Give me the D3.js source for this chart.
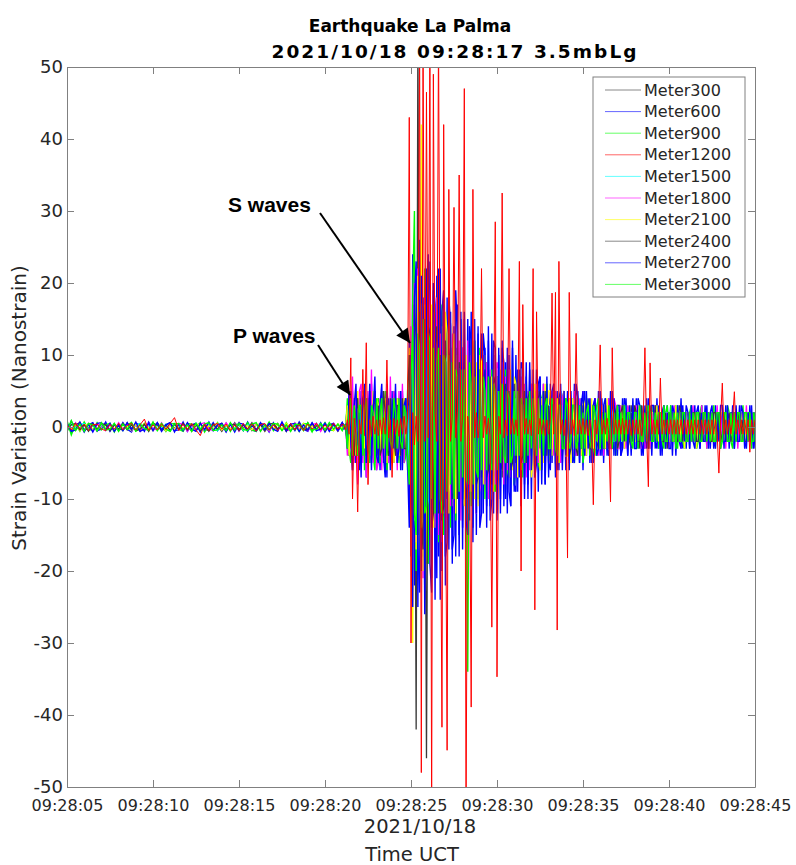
<!DOCTYPE html>
<html>
<head>
<meta charset="utf-8">
<script src="https://cdn.jsdelivr.net/npm/d3@7"></script>
<style>
  body { margin: 0; background: #fff; }
  svg { display: block; }
</style>
</head>
<body>
<svg id="chart" width="796" height="865"></svg>
<script>
// ---------------- DATA ----------------
const seriesNames = ["Meter300","Meter600","Meter900","Meter1200","Meter1500","Meter1800","Meter2100","Meter2400","Meter2700","Meter3000"];
const xTickSeconds = [5,10,15,20,25,30,35,40,45];
const xTickLabels = ["09:28:05","09:28:10","09:28:15","09:28:20","09:28:25","09:28:30","09:28:35","09:28:40","09:28:45"];
const yTicks = [-50,-40,-30,-20,-10,0,10,20,30,40,50];

// sampling grid (seconds after 09:28:00): before the event every 0.25 s, during the event every 0.1 s
const quietTimes = d3.range(65).map(i => 5 + i * 0.25);
const activeTimes = d3.range(240).map(i => +(21.1 + i * 0.1).toFixed(1));
const times = quietTimes.concat(activeTimes);

// ---- background noise, 09:28:05 - 09:28:21 ----
const q300 = [0.5,-0.7,0.3,0.6,-0.4,-0.2,0.5,-0.6,0.2,0.4,-0.5,0.3,-0.3,
 -0.4,0.6,-0.2,0.3,-0.6,0.4,0.2,-0.5,0.6,-0.3,-0.4,0.5,-0.2,
 0.3,-0.5,0.4,-0.6,0.2,0.5,-0.3,-0.5,0.4,0.2,-0.6,0.3,-0.4,
 0.6,-0.3,-0.2,0.5,-0.5,0.3,0.4,-0.6,0.2,-0.3,0.5,-0.4,0.3,
 -0.5,0.2,0.4,-0.3,0.6,-0.5,0.2,-0.4,0.5,-0.3,0.3,-0.6,0.4];
const q600 = [-0.6,0.8,-0.4,0.5,-0.7,0.3,0.6,-0.5,-0.3,0.7,-0.6,0.4,-0.5,
 0.6,-0.3,-0.7,0.5,0.3,-0.6,0.7,-0.4,0.5,-0.6,0.3,0.6,-0.5,
 -0.4,0.7,-0.6,0.3,0.5,-0.7,0.4,-0.3,0.6,-0.5,0.4,-0.7,0.5,
 -0.3,0.6,-0.5,0.7,-0.4,-0.6,0.5,0.3,-0.7,0.6,-0.4,0.5,-0.6,
 0.4,-0.5,0.7,-0.3,-0.6,0.5,-0.4,0.6,-0.7,0.3,0.5,-0.4,0.6];
const q900 = [0.9,-1.1,0.4,-0.6,0.7,-0.3,-0.5,0.6,-0.4,0.3,0.5,-0.7,0.4,
 -0.5,0.3,0.6,-0.6,-0.2,0.5,-0.4,0.7,-0.5,0.3,-0.6,0.4,0.5,
 -0.3,-0.6,0.5,0.4,-0.5,0.6,-0.7,0.3,-0.4,0.6,-0.3,0.5,-0.6,
 0.4,0.3,-0.5,0.6,-0.4,-0.6,0.5,-0.3,0.7,-0.5,0.4,-0.4,0.6,
 -0.5,0.3,-0.6,0.5,0.4,-0.7,0.5,-0.3,0.6,-0.4,-0.5,0.4,-0.3];
const q1200 = [0.3,-0.4,0.5,-0.2,0.4,-0.5,0.3,0.4,-0.3,-0.5,0.4,-0.3,0.5,
 -0.4,0.2,0.5,-0.4,0.3,1.1,-0.5,0.3,-0.4,0.4,-0.3,0.5,1.3,
 -0.5,0.4,-0.3,0.5,-0.4,-1.2,0.4,-0.5,0.3,0.5,-0.3,0.4,-0.5,
 0.3,-0.4,0.5,-0.3,0.4,-0.6,0.3,0.5,-0.4,0.3,-0.5,0.4,-0.3,
 0.5,-0.4,0.3,-0.5,0.4,-0.3,0.5,-0.4,0.3,-0.4,0.5,-0.3,0.4];
const q1500 = [-0.3,0.4,-0.2,0.3,0.5,-0.4,0.2,-0.5,0.3,-0.2,0.4,-0.3,0.2,
 0.4,-0.3,-0.4,0.2,0.5,-0.3,0.3,-0.4,0.2,-0.2,0.4,-0.5,0.3,
 0.2,-0.4,0.3,-0.3,0.5,-0.2,-0.4,0.3,0.2,-0.5,0.4,-0.3,0.3,
 -0.2,0.4,-0.4,0.3,0.2,-0.5,0.4,-0.3,0.2,0.3,-0.4,0.5,-0.2,
 0.3,-0.4,0.2,0.4,-0.3,0.3,-0.5,0.2,0.4,-0.3,0.2,-0.4,0.3];
const q1800 = [0.4,-0.5,0.6,-0.3,-0.4,0.5,-0.6,0.3,0.4,-0.5,0.3,-0.4,0.6,
 -0.3,0.5,-0.5,0.4,-0.6,0.3,0.5,-0.4,-0.3,0.6,-0.5,0.3,-0.4,
 0.5,0.4,-0.6,0.3,-0.5,0.4,0.6,-0.3,-0.5,0.4,-0.4,0.6,-0.3,
 0.5,-0.6,0.3,-0.4,0.5,0.4,-0.5,0.3,-0.6,0.4,-0.3,0.5,-0.4,
 -0.5,0.6,-0.3,0.4,-0.5,0.3,0.5,-0.6,0.4,-0.3,0.5,-0.5,0.3];
const q2100 = [0.3,-0.3,0.4,-0.5,0.2,0.4,-0.3,-0.4,0.5,-0.2,0.3,-0.4,0.4,
 -0.3,0.2,-0.5,0.4,-0.3,0.5,-0.2,-0.4,0.3,0.4,-0.5,0.2,-0.3,
 0.4,-0.2,0.3,-0.5,0.4,0.3,-0.4,0.2,-0.3,0.5,-0.4,0.3,-0.2,
 -0.4,0.5,-0.3,0.2,-0.4,0.3,0.4,-0.5,0.3,-0.2,0.4,-0.3,0.5,
 -0.2,0.3,-0.4,0.5,-0.3,0.2,-0.4,0.4,-0.3,0.2,-0.5,0.4,-0.2];
const q2400 = [-0.4,0.3,0.5,-0.4,0.3,-0.6,0.4,-0.3,0.5,0.3,-0.5,0.4,-0.3,
 0.5,-0.4,0.3,-0.5,-0.3,0.4,-0.6,0.5,0.3,-0.4,0.3,-0.5,0.4,
 -0.3,0.5,-0.4,0.3,0.4,-0.5,0.3,-0.6,0.4,-0.3,0.5,-0.4,0.3,
 0.4,-0.5,0.3,-0.3,0.6,-0.4,0.3,-0.5,0.4,0.5,-0.3,0.4,-0.6,
 0.3,-0.4,0.5,-0.3,-0.4,0.5,-0.3,0.4,-0.5,0.3,0.4,-0.3,0.5];
const q2700 = [0.5,-0.6,-0.4,0.7,-0.5,0.4,-0.7,0.5,0.6,-0.4,0.5,-0.6,0.3,
 -0.5,0.6,-0.4,0.7,-0.6,-0.3,0.5,-0.5,0.6,-0.4,0.3,0.6,-0.7,
 0.4,-0.5,0.6,-0.3,-0.6,0.5,-0.4,0.7,-0.5,0.3,0.5,-0.6,0.4,
 -0.7,0.5,0.4,-0.6,0.3,-0.5,0.6,-0.4,0.5,-0.3,-0.6,0.7,-0.5,
 0.4,0.5,-0.6,0.3,-0.4,0.6,-0.5,-0.3,0.5,-0.6,0.4,-0.5,0.6];
const q3000 = [-0.7,0.9,-0.5,0.4,-0.6,0.5,0.3,-0.5,0.6,-0.4,-0.3,0.5,-0.6,
 0.4,-0.3,0.6,-0.5,0.4,-0.2,-0.5,0.6,-0.4,0.5,-0.3,-0.6,0.4,
 0.5,-0.4,0.3,-0.6,0.5,-0.3,0.4,0.6,-0.5,-0.4,0.3,-0.5,0.6,
 -0.4,0.5,-0.3,-0.5,0.4,0.6,-0.6,0.3,-0.4,0.5,0.4,-0.5,0.3,
 -0.6,0.4,0.3,-0.5,0.6,-0.4,-0.3,0.5,-0.4,0.6,-0.3,0.4,-0.5];

// ---- event, 09:28:21.1 - 09:28:45 (one row = one second) ----
const a300 = [
 -0.2,0.3,3,-4,2,-3,4,-5,3,-3,
 4,-3,3,-5,4,-2,3,-4,5,-3,
 -4,3,-3,4,-5,3,2,-4,3,-4,
 3,-4,4,-3,-3,4,-4,3,-9,12,
 -16,15,-42,55,-14,16,-18,13,-15,15,
 -14,12,-13,15,-11,13,-14,10,12,-12,
 10,-11,9,-12,10,-9,11,-8,-10,9,
 -9,8,-10,9,-8,7,-9,8,7,-8,
 7,-8,6,-7,8,-6,7,-7,-6,7,
 -6,5,-7,6,-5,6,-6,5,6,-5,
 5,-6,5,-4,6,-5,-4,5,-5,4,
 -4,5,-4,5,-5,4,4,-4,5,-4,
 4,-4,3,-4,4,-3,-4,4,-3,4,
 -3,4,-3,3,-4,3,3,-3,4,-3,
 3,-3,3,-3,3,-2,-3,3,-3,3,
 -3,2,-3,3,-2,3,2,-3,3,-2,
 2,-3,2,-2,3,-2,-2,3,-2,2,
 -2,2,-3,2,-2,2,2,-2,3,-2,
 2,-2,2,-2,2,-3,-2,2,-2,2,
 -2,2,-2,2,-2,2,2,-2,2,-2,
 2,-2,2,-2,2,-2,-2,2,-2,2,
 -2,2,-2,2,-2,2,2,-2,2,-2,
 2,-1,2,-2,1,-2,-2,2,-1,2,
 -2,1,-2,2,-1,2,1,-2,2,-1];
const a600 = [
 0.3,-0.4,2,-4,5,-6,4,-5,3,-6,
 5,-4,6,-7,4,-5,6,-3,5,-6,
 4,-6,5,-5,3,-7,4,-4,5,-5,
 4,-5,3,-6,5,-4,4,-6,12,-18,
 24,-22,20,-25,26,-20,18,-24,22,-19,
 23,-21,19,-24,21,-18,22,-20,17,-22,
 18,-17,16,-19,14,-18,17,-15,16,-17,
 15,-16,15,-13,16,-14,12,-15,14,-13,
 13,-12,11,-14,12,-11,13,-12,10,-13,
 11,-10,12,-11,9,-12,10,-11,11,-9,
 10,-9,8,-11,9,-8,9,-10,8,-10,
 8,-7,8,-9,7,-8,6,-8,7,-7,
 6,-5,6,-7,5,-6,6,-5,4,-6,
 5,-6,4,-5,6,-4,5,-5,4,-6,
 5,-4,4,-5,3,-5,4,-4,5,-4,
 4,-5,3,-4,4,-3,5,-4,3,-4,
 3,-4,4,-3,4,-4,3,-4,3,-3,
 4,-3,3,-4,3,-3,4,-3,2,-4,
 3,-3,4,-3,2,-4,3,-3,3,-2,
 3,-4,2,-3,3,-2,4,-3,2,-3,
 2,-3,3,-2,3,-3,2,-3,3,-2,
 3,-2,2,-3,2,-3,3,-2,2,-3,
 2,-3,3,-2,2,-2,3,-3,2,-2,
 3,-2,2,-3,2,-2,3,-2,2,-3];
const a900 = [
 0.2,-0.5,4,-3,-5,5,-4,3,-5,4,
 -3,5,-6,4,3,-5,5,-4,-6,3,
 4,-5,3,-4,5,-6,-3,4,-5,5,
 -4,4,-5,3,4,-5,-4,5,9,-12,
 18,30,-20,17,-21,19,-18,22,-15,-19,
 16,-17,15,-14,18,-16,-13,17,-15,14,
 -12,13,-14,11,12,-13,10,-12,11,-13,
 10,-12,-34,9,-11,10,12,-9,-10,11,
 -9,8,-10,9,7,-9,8,-8,-9,7,
 7,-8,6,-7,8,-6,-7,7,6,-8,
 -6,7,-5,6,-7,5,6,-6,-5,6,
 5,-6,5,-5,-6,4,5,-5,6,-4,
 -5,4,5,-4,4,-5,-4,4,5,-4,
 4,-4,-3,4,-5,3,4,-4,3,-5,
 -3,4,3,-4,3,-3,-4,3,4,-3,
 3,-3,4,-3,-3,4,-3,3,-4,2,
 -3,3,-2,3,3,-3,2,-3,3,-2,
 2,-3,3,-2,-3,2,3,-2,-3,3,
 -2,3,2,-3,2,-2,-3,2,3,-2,
 3,-2,-2,3,-3,2,2,-2,-3,2,
 -2,2,3,-2,2,-3,-2,2,3,-2,
 2,-3,2,-2,-2,3,-2,2,2,-3,
 -2,2,-2,3,2,-2,-3,2,-2,2,
 2,-2,3,-2,-2,2,2,-3,2,-2];
const a1200 = [
 0.3,-0.4,1,-1,9.6,-10,1.2,-1,-11.8,1,
 -1,8,-1.2,11.7,-8,1,-1.3,1.5,-1,1,
 -1.2,1,-1,1.3,-1,9.3,-1.5,1,-7,1.2,
 -1,1,-1.3,1.2,-1,1.5,-1,1,43,-30,
 2,-2.5,1.5,-2,55,-48,55,-2,46.5,-1.5,
 55,-55,49,2,-2,55,-1.5,-41.7,42,-2,
 -44.9,33,-2,1.5,30.5,-1.5,2,35,-2,1.5,
 47,-55,1.5,-2,-38.9,33,-1.5,2,-1.5,1,
 22,-1.5,1.5,-1,1.2,-1.5,-27.8,1.5,28.5,-34.7,
 1.5,-1,32.5,-1.5,1,-1.2,22,-1,1.2,-1,
 1,-1.2,23,-20,17,-1,1.2,-1,1,-1.2,
 22,-25.4,16,-1,1.2,-1,1,-1.2,1,-1,
 1,18.6,-1,18.7,-28.2,23,-1,1,-1.2,1,
 -18.2,18.7,-1,1,-1.2,13,-1,1,-1,1.2,
 -1,1,-1.2,1,-1,-10.8,1,-1,1,11.4,
 -1,1,-1,1.2,-1,-10.4,11,-1,1,-1,
 1,-1,1.2,-1,1,-1,1,-1.2,1,-1,
 1,-1,1,-1.2,1,11,-1,-8.3,8.9,-1,
 1,-1,1,-1,6.8,-1,1,-1,1,-1,
 1,-1,1,-1,1,-1,1,-1,1,-1,
 1,-1,1,-1,1,-1,1,-1,1,-1,
 1,-1,1,-1,1,-1,1,-1,-6.4,1,
 6.1,-1,1,-1,1,-1,1,4.9,-1,1,
 -1,1,-1,1,-1,1,-3.5,1,-1,1];
const a1500 = [
 0.1,-0.2,2,-3,3,-2,-3,3,-2,3,
 -3,2,3,-3,-2,3,-4,2,3,-3,
 2,-3,-2,3,3,-2,-3,2,3,-2,
 -3,2,2,-3,3,-2,-2,3,-6,7,
 12,-13,14,-11,-13,12,10,-14,13,-10,
 -11,12,-10,11,9,-12,11,-9,-10,10,
 9,-8,-9,8,-7,9,8,-8,7,-9,
 -7,8,6,-7,8,-6,-7,6,-8,7,
 6,-6,-5,6,5,-6,6,-5,-6,5,
 -5,5,4,-5,-4,5,-5,4,5,-4,
 4,-4,-5,4,4,-3,-4,5,-3,4,
 -4,3,4,-4,-3,4,3,-3,-4,3,
 3,-3,-3,4,3,-3,-3,3,3,-3,
 -3,3,2,-3,-3,2,3,-3,-2,3,
 2,-3,-2,3,2,-2,-3,2,3,-2,
 -2,2,3,-2,-2,3,2,-2,-2,2,
 2,-2,-2,2,3,-2,-2,2,2,-2,
 -2,2,2,-2,-2,2,2,-2,-2,2,
 2,-2,-2,2,2,-2,-2,2,2,-1,
 -2,1,2,-2,-1,2,2,-1,-2,2,
 1,-2,-1,2,2,-1,-2,1,2,-1,
 -1,2,1,-2,-1,2,1,-2,-1,2,
 2,-1,-2,1,2,-1,-1,2,1,-2,
 -1,2,1,-1,-2,1,2,-1,-1,1];
const a1800 = [
 -0.2,0.1,-4,5,-3,7,-5,4,-8,5,
 6,-5,4,-7,5,-4,8,-5,4,-6,
 -5,4,-6,5,-4,6,-5,7,-4,5,
 4,-6,5,-4,6,-5,3,-4,-10,14,
 -18,20,-16,22,-19,17,-21,18,-16,20,
 15,-17,16,-14,18,-15,13,-16,17,-13,
 -12,14,-11,13,-12,15,-10,12,-13,11,
 11,-10,12,-9,10,-11,9,-12,10,-8,
 -9,10,-8,9,-10,8,-9,7,-8,9,
 8,-7,9,-8,7,-6,8,-7,6,-7,
 -7,6,-6,7,-5,6,-7,5,-6,6,
 5,-6,6,-5,5,-4,6,-5,4,-5,
 -5,5,-4,5,-5,4,-5,4,5,-4,
 4,-5,4,-4,5,-4,-3,4,-4,5,
 -4,4,-3,4,-4,3,4,-3,-4,3,
 3,-4,3,-3,4,-3,-3,4,3,-3,
 -3,3,-2,3,-3,3,2,-3,3,-2,
 3,-2,3,-3,2,-3,-2,3,-3,2,
 -2,3,-2,2,-3,2,3,-2,2,-3,
 2,-2,3,-2,2,-2,-3,2,-2,2,
 -2,2,-2,3,-2,2,2,-2,3,-2,
 2,-3,2,-2,2,-2,-2,3,-2,2,
 -2,2,-3,2,-2,2,2,-2,2,-3,
 2,-2,2,-2,3,-2,-2,2,-2,2];
const a2100 = [
 0.2,-0.3,3,-4,4,-5,3,-4,5,-3,
 -4,5,-3,4,-5,3,-4,5,-3,4,
 3,-4,5,-3,4,-5,3,-3,4,-5,
 -3,4,-4,3,-5,4,-3,4,11,-13,
 -30,19,-17,21,-18,42,-20,17,-19,16,
 -15,17,-14,16,-13,15,-17,14,-12,16,
 13,-12,14,-11,13,-12,10,-13,12,-10,
 -11,10,-12,11,-9,12,-10,9,-11,10,
 9,-8,10,-9,8,-10,7,-9,8,-8,
 -7,8,-6,7,-8,6,-7,8,-6,7,
 6,-7,5,-6,7,-5,6,-6,5,-7,
 -5,6,-5,5,-6,4,-5,6,-4,5,
 5,-4,5,-5,4,-5,4,-4,5,-4,
 -4,4,-5,4,-3,4,-4,3,-4,4,
 3,-4,3,-3,4,-3,3,-4,3,-3,
 -3,3,-3,4,-3,3,-2,3,-3,3,
 3,-2,3,-3,2,-3,3,-2,3,-2,
 -2,3,-2,2,-3,2,-2,3,-2,2,
 2,-2,3,-2,2,-2,2,-3,2,-2,
 -2,2,-2,3,-2,2,-2,2,-3,2,
 2,-2,2,-2,2,-3,2,-2,2,-2,
 -2,2,-2,2,-2,2,-3,2,-2,2,
 2,-2,2,-2,2,-2,2,-2,2,-2,
 -2,2,-1,2,-2,1,-2,2,-1,2];
const a2400 = [
 0.2,-0.3,-2,3,4,-3,-4,2,4,-5,
 -3,4,3,-4,-2,5,-3,3,4,-4,
 3,-4,-3,5,2,-3,-4,4,-3,3,
 -4,3,3,-4,4,-3,-3,4,10,-8,
 -14,17,12,-15,16,-13,-17,15,-46,14,
 13,-14,-12,11,14,-12,10,-13,-11,12,
 -10,9,11,-10,-9,11,-10,9,8,-9,
 9,-10,-8,9,7,-9,8,-8,-7,8,
 -7,6,8,-7,-6,7,-8,6,7,-6,
 6,-5,-6,5,6,-5,5,-6,-5,6,
 -5,4,6,-5,-4,5,-5,4,5,-4,
 4,-5,-4,4,5,-4,-3,5,-4,3,
 -4,3,4,-4,-3,4,3,-4,3,-3,
 3,-4,-3,3,3,-3,-4,3,-3,3,
 -3,3,2,-3,-3,3,3,-2,-3,2,
 2,-3,3,-2,-3,2,-2,3,2,-3,
 -2,2,3,-2,2,-3,-2,2,-2,3,
 2,-2,-2,3,-2,2,2,-3,2,-2,
 -2,3,-2,2,2,-2,-2,2,-3,2,
 2,-2,2,-2,-2,3,2,-2,2,-2,
 -2,2,-2,2,2,-2,-2,2,-2,2,
 2,-2,2,-2,-2,2,2,-2,2,-2,
 -1,2,-2,1,2,-2,-1,2,-2,1,
 2,-1,1,-2,-2,1,2,-1,-1,2];
const a2700 = [
 -0.2,0.3,-3,5,-2,-6,3,6,-4,2,
 -7,4,5,-5,-3,6,-6,2,7,-4,
 -5,3,6,-4,-7,5,2,-6,4,-3,
 6,-5,-3,5,-6,3,4,-5,-14,10,
 -25,18,23,-17,-23,21,16,-26,19,24,
 -19,-23,20,17,-21,22,-24,16,19,-18,
 -16,18,14,-17,-15,19,13,-18,15,-14,
 16,-13,-15,14,12,-16,15,-12,13,-14,
 -12,13,10,-11,14,-13,-10,12,11,-12,
 10,-12,11,9,-10,11,-9,-11,12,-8,
 -9,8,-7,9,8,-10,7,-8,9,-6,
 6,-7,-5,6,7,-6,5,-8,6,-5,
 -6,5,6,-5,-6,4,5,-6,5,-4,
 4,-5,5,-4,-5,6,4,-5,3,5,
 -4,5,-3,4,-5,3,4,-4,-3,5,
 -4,3,4,-3,-4,5,-3,4,-4,3,
 3,-4,-3,4,3,-4,3,-3,4,-3,
 -3,4,3,-2,-4,3,-3,4,-2,3,
 3,-2,-3,3,-4,2,3,-3,2,-3,
 -3,3,2,-4,3,-2,-3,3,-2,3,
 2,-3,3,-2,-3,2,3,-3,2,-2,
 -2,3,-3,2,3,-2,-3,2,-2,3,
 3,-2,-2,3,-3,2,2,-3,3,-2,
 -2,3,2,-2,-3,2,-2,3,-3,2];
const a3000 = [
 0.3,0.2,-3,2,4,-4,3,-2,-4,3,
 3,-4,2,4,-3,-4,3,2,-5,4,
 -3,2,4,-3,2,-4,3,-2,-3,4,
 2,-3,4,-2,-3,3,2,-4,-8,7,
 14,-12,-15,13,11,-14,15,-12,-11,13,
 12,-10,11,-12,9,11,-10,-12,10,9,
 -9,10,-8,9,-10,8,7,-9,8,-7,
 8,-7,-8,9,6,-8,7,-6,-7,8,
 -6,7,5,-6,7,-5,-6,6,5,-6,
 5,-5,6,-4,-5,5,4,-5,-4,5,
 -4,5,-4,4,3,-5,4,-4,5,-3,
 4,-3,-4,4,-3,3,-4,3,4,-3,
 -3,4,3,-3,-4,3,3,-3,-3,4,
 3,-3,-2,3,3,-3,-2,3,-3,2,
 -3,2,3,-2,-3,3,2,-2,3,-3,
 2,-3,2,-2,3,-2,-3,2,-2,3,
 -2,2,-2,3,-2,2,2,-2,-3,2,
 2,-2,3,-2,-2,2,-2,3,2,-2,
 -2,2,-2,2,2,-2,3,-2,-2,2,
 2,-2,2,-3,2,-2,-2,2,2,-2,
 -2,2,-2,2,-2,2,2,-2,-2,2,
 2,-2,2,-2,2,-2,-2,2,2,-2,
 -2,2,2,-2,-2,2,-2,2,-2,2,
 2,-2,-2,2,2,-2,2,-2,-2,2];

const seriesValues = [
  q300.concat(a300), q600.concat(a600), q900.concat(a900), q1200.concat(a1200),
  q1500.concat(a1500), q1800.concat(a1800), q2100.concat(a2100), q2400.concat(a2400),
  q2700.concat(a2700), q3000.concat(a3000)
];

// ---------------- STYLE / LAYOUT ----------------
const colors = ["#3a3a3a","#0000ff","#00ff00","#ff0000","#00ffff","#ff00ff","#ffff00","#3a3a3a","#0000ff","#00ff00"];
const widths = [1.3,1.4,1.4,1.0,1.3,1.3,1.3,1.3,1.4,1.4];
const drawOrder = [0,1,2,4,5,6,7,8,9,3];
const L = 67, R = 755, T = 67, B = 787;
const FONT = "DejaVu Sans, Verdana, sans-serif";
const axisColor = "#808080";
const textColor = "#262626";

const svg = d3.select("#chart");
const x = d3.scaleLinear().domain([5, 45]).range([L, R]);
const y = d3.scaleLinear().domain([-50, 50]).range([B, T]);

const defs = svg.append("defs");
defs.append("clipPath").attr("id", "plotclip")
  .append("rect").attr("x", L).attr("y", T).attr("width", R - L).attr("height", B - T);

const line = d3.line().x((d, i) => x(times[i])).y(d => y(d));
const gLines = svg.append("g").attr("clip-path", "url(#plotclip)");
drawOrder.forEach(k => {
  gLines.append("path")
    .datum(seriesValues[k])
    .attr("fill", "none")
    .attr("stroke", colors[k])
    .attr("stroke-width", widths[k])
    .attr("stroke-linejoin", "miter")
    .attr("d", line);
});

// axes (box with inward ticks on all sides)
const tickLen = 7;
function styleAxis(g) {
  g.select(".domain").attr("stroke", axisColor);
  g.selectAll(".tick line").attr("stroke", axisColor);
  g.selectAll(".tick text").attr("fill", textColor).attr("font-family", FONT);
}
const xAxisB = d3.axisBottom(x).tickValues(xTickSeconds)
  .tickFormat((d, i) => xTickLabels[i]).tickSizeInner(-tickLen).tickSizeOuter(0).tickPadding(13);
svg.append("g").attr("transform", `translate(0,${B})`).call(xAxisB).call(styleAxis)
  .selectAll(".tick text").attr("font-size", 16);
const xAxisT = d3.axisTop(x).tickValues(xTickSeconds).tickFormat("").tickSizeInner(-tickLen).tickSizeOuter(0);
svg.append("g").attr("transform", `translate(0,${T})`).call(xAxisT).call(styleAxis);

const yAxisL = d3.axisLeft(y).tickValues(yTicks).tickFormat(d3.format("d"))
  .tickSizeInner(-tickLen).tickSizeOuter(0).tickPadding(4);
svg.append("g").attr("transform", `translate(${L},0)`).call(yAxisL).call(styleAxis)
  .selectAll(".tick text").attr("font-size", 18).attr("x", -4).text(d => d < 0 ? "-" + Math.abs(d) : d);
const yAxisR = d3.axisRight(y).tickValues(yTicks).tickFormat("").tickSizeInner(-tickLen).tickSizeOuter(0);
svg.append("g").attr("transform", `translate(${R},0)`).call(yAxisR).call(styleAxis);

// titles and labels
svg.append("text").attr("x", 410).attr("y", 32).attr("text-anchor", "middle")
  .attr("font-family", FONT).attr("font-weight", "bold").attr("font-size", 17).attr("fill", "#000")
  .text("Earthquake La Palma");
svg.append("text").attr("x", 454).attr("y", 58).attr("text-anchor", "middle")
  .attr("font-family", FONT).attr("font-weight", "bold").attr("font-size", 18.5).attr("fill", "#000")
  .attr("textLength", 365).attr("lengthAdjust", "spacing")
  .text("2021/10/18 09:28:17 3.5mbLg");

svg.append("text").attr("x", 420).attr("y", 833).attr("text-anchor", "middle")
  .attr("font-family", FONT).attr("font-size", 19.5).attr("fill", textColor).text("2021/10/18");
svg.append("text").attr("x", 412).attr("y", 861).attr("text-anchor", "middle")
  .attr("font-family", FONT).attr("font-size", 19.5).attr("fill", textColor).text("Time UCT");
svg.append("text").attr("transform", `translate(26,408) rotate(-90)`)
  .attr("text-anchor", "middle").attr("font-family", FONT).attr("font-size", 20)
  .attr("fill", textColor).text("Strain Variation (Nanostrain)");

// annotations
defs.append("marker").attr("id", "arrowhead").attr("viewBox", "0 0 10 10")
  .attr("refX", 10).attr("refY", 5).attr("markerWidth", 9).attr("markerHeight", 7)
  .attr("markerUnits", "strokeWidth").attr("orient", "auto")
  .append("path").attr("d", "M0,0 L10,5 L0,10 Z").attr("fill", "#000");
const annFont = "Liberation Sans, Arial, sans-serif";
svg.append("line").attr("x1", 320).attr("y1", 213).attr("x2", 410).attr("y2", 343)
  .attr("stroke", "#000").attr("stroke-width", 2).attr("marker-end", "url(#arrowhead)");
svg.append("line").attr("x1", 318).attr("y1", 345).attr("x2", 350).attr("y2", 395)
  .attr("stroke", "#000").attr("stroke-width", 2).attr("marker-end", "url(#arrowhead)");
svg.append("text").attr("x", 228).attr("y", 212).attr("font-family", annFont)
  .attr("font-weight", "bold").attr("font-size", 21).attr("fill", "#000").text("S waves");
svg.append("text").attr("x", 233).attr("y", 343).attr("font-family", annFont)
  .attr("font-weight", "bold").attr("font-size", 21).attr("fill", "#000").text("P waves");

// legend
const lgX = 593, lgY = 77, lgW = 152, lgH = 220, rowH = 21.6;
const lg = svg.append("g");
lg.append("rect").attr("x", lgX).attr("y", lgY).attr("width", lgW).attr("height", lgH)
  .attr("fill", "#fff").attr("stroke", axisColor).attr("stroke-width", 1);
seriesNames.forEach((name, i) => {
  const cy = lgY + 13 + i * rowH;
  lg.append("line").attr("x1", lgX + 12).attr("x2", lgX + 48).attr("y1", cy).attr("y2", cy)
    .attr("stroke", colors[i]).attr("stroke-width", 1).attr("opacity", 0.6);
  lg.append("text").attr("x", lgX + 51).attr("y", cy + 5.5).attr("font-family", FONT)
    .attr("font-size", 16).attr("fill", textColor).text(name);
});
</script>
</body>
</html>
